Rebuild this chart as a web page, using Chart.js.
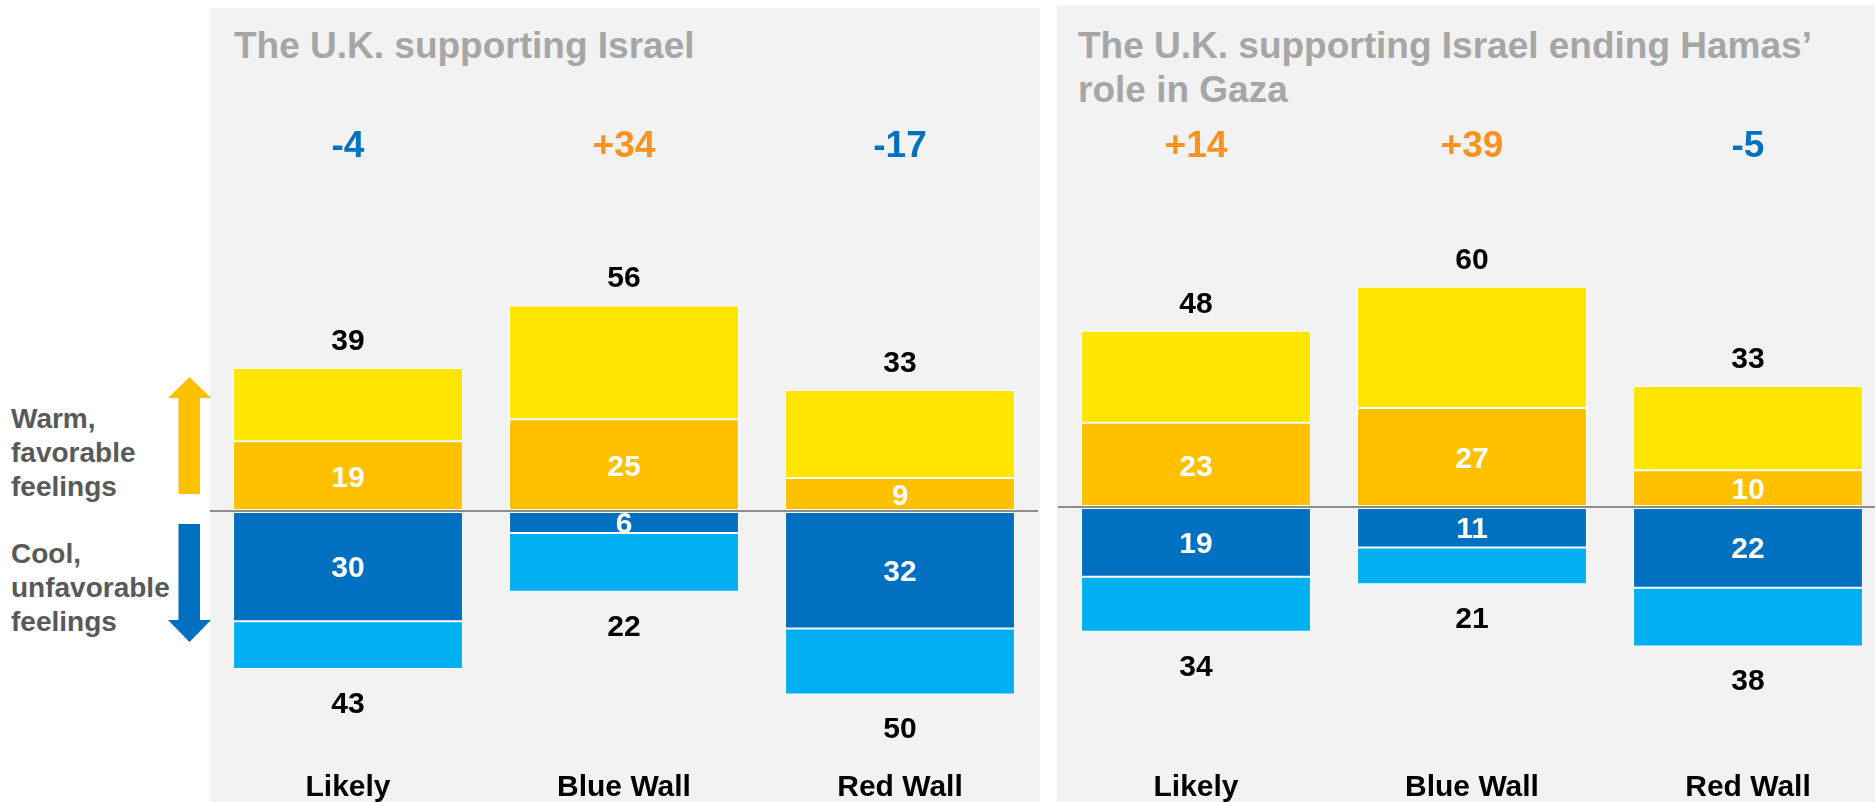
<!DOCTYPE html>
<html>
<head>
<meta charset="utf-8">
<script src="https://cdn.jsdelivr.net/npm/chart.js@4.4.1/dist/chart.umd.min.js"></script>
<style>
  html, body { margin: 0; padding: 0; background: #fff; overflow: hidden; }
  body { width: 1875px; height: 802px; position: relative; font-family: "Liberation Sans", Arial, sans-serif; }
  .panel { position: absolute; background: #F2F2F2; }
  .title { position: absolute; color: #A6A6A6; font-weight: bold; font-size: 37px; line-height: 44px; white-space: nowrap; }
  .side { position: absolute; left: 11px; color: #595959; font-weight: bold; font-size: 28px; line-height: 34px; }
  canvas { position: absolute; }
</style>
</head>
<body>
<div class="panel" style="left:210px; top:8px; width:830px; height:794px;"></div>
<div class="panel" style="left:1057px; top:5px; width:818px; height:797px;"></div>

<div class="title" style="left:234px; top:24px;">The U.K. supporting Israel</div>
<div class="title" style="left:1078px; top:24px;">The U.K. supporting Israel ending Hamas’<br>role in Gaza</div>

<div class="side" style="top:402px;">Warm,<br>favorable<br>feelings</div>
<div class="side" style="top:537px;">Cool,<br>unfavorable<br>feelings</div>

<svg style="position:absolute; left:0; top:0;" width="260" height="802">
  <polygon points="178.5,398 200,398 200,494 178.5,494" fill="#FFC000"/>
  <polygon points="168,398 211,398 189.5,377" fill="#FFC000"/>
  <polygon points="178.5,524 200,524 200,620 178.5,620" fill="#0070C0"/>
  <polygon points="168,620 211,620 189.5,642" fill="#0070C0"/>
</svg>

<canvas id="israelChart" width="830" height="794" style="left:209px; top:8px;"></canvas>
<canvas id="hamasChart" width="830" height="797" style="left:1057px; top:5px;"></canvas>

<script>
const categories = ["Likely", "Blue Wall", "Red Wall"];

// The U.K. supporting Israel
const israelWarm = [39, 56, 33];
const israelStrongWarm = [19, 25, 9];
const israelCool = [43, 22, 50];
const israelStrongCool = [30, 6, 32];

// The U.K. supporting Israel ending Hamas' role in Gaza
const hamasWarm = [48, 60, 33];
const hamasStrongWarm = [23, 27, 10];
const hamasCool = [34, 21, 38];
const hamasStrongCool = [19, 11, 22];

const FONT = '"Liberation Sans", Arial, sans-serif';

// draw text centred vertically on cy (digit height is ~0.716em)
function centred(ctx, text, cx, cy, size) {
  ctx.font = "bold " + size + "px " + FONT;
  ctx.fillText(text, cx, cy + size * 0.358);
}

const labelPlugin = {
  id: "barLabels",
  afterDraw(chart) {
    const { ctx, scales: { x, y } } = chart;
    const o = chart.options.plugins.barLabels;
    ctx.save();
    ctx.textAlign = "center";
    ctx.textBaseline = "alphabetic";
    categories.forEach((cat, i) => {
      const cx = x.getPixelForValue(i);
      ctx.fillStyle = "#000";
      centred(ctx, o.warm[i], cx, y.getPixelForValue(o.warm[i]) - 29, 30);
      centred(ctx, o.cool[i], cx, y.getPixelForValue(-o.cool[i]) + 33, 30);
      ctx.fillStyle = "#fff";
      centred(ctx, o.strongWarm[i], cx, (y.getPixelForValue(0) + y.getPixelForValue(o.strongWarm[i])) / 2, 30);
      centred(ctx, o.strongCool[i], cx, (y.getPixelForValue(0) + y.getPixelForValue(-o.strongCool[i])) / 2, 30);

      const net = o.warm[i] - o.cool[i];
      ctx.fillStyle = net > 0 ? "#F7931E" : "#0070C0";
      centred(ctx, (net > 0 ? "+" : "") + net, cx, 144 - o.top, 37);

      ctx.font = "bold 30px " + FONT;
      ctx.fillStyle = "#000";
      ctx.fillText(cat, cx, 796 - o.top);
    });
    ctx.restore();
  }
};

function makeChart(id, warm, strongWarm, cool, strongCool, top, padTop, padBottom) {
  return new Chart(document.getElementById(id), {
    type: "bar",
    data: {
      labels: categories,
      datasets: [
        { data: strongWarm, backgroundColor: "#FFC000" },
        { data: warm.map((v, i) => v - strongWarm[i]), backgroundColor: "#FFE500" },
        { data: strongCool.map(v => -v), backgroundColor: "#0070C0" },
        { data: cool.map((v, i) => -(v - strongCool[i])), backgroundColor: "#00B0F0" }
      ].map(d => Object.assign(d, {
        borderColor: "#FFFFFF",
        borderWidth: 1,
        borderSkipped: false,
        barPercentage: 1,
        categoryPercentage: 0.833
      }))
    },
    options: {
      responsive: false,
      animation: false,
      layout: { padding: { top: padTop, bottom: padBottom, left: 1, right: 1 } },
      plugins: {
        legend: { display: false },
        tooltip: { enabled: false },
        barLabels: { warm, strongWarm, cool, strongCool, top }
      },
      scales: {
        x: { stacked: true, display: false },
        y: {
          stacked: true,
          min: -70,
          max: 100,
          z: 1,
          ticks: { display: false, stepSize: 10 },
          border: { display: false },
          grid: {
            drawTicks: false,
            lineWidth: 2,
            color: c => c.tick && c.tick.value === 0 ? "#8C8C8C" : "rgba(0,0,0,0)"
          }
        }
      }
    },
    plugins: [labelPlugin]
  });
}

const israelChart = makeChart("israelChart", israelWarm, israelStrongWarm, israelCool, israelStrongCool, 8, 136, 34);
const hamasChart = makeChart("hamasChart", hamasWarm, hamasStrongWarm, hamasCool, hamasStrongCool, 5, 135, 38);
</script>
</body>
</html>
